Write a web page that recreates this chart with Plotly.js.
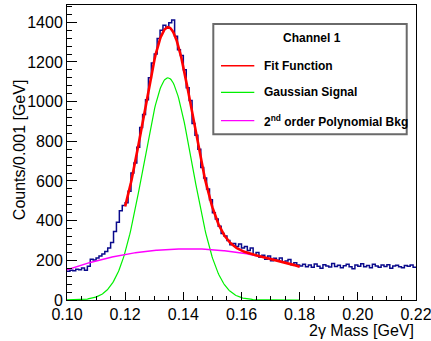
<!DOCTYPE html>
<html>
<head>
<meta charset="utf-8">
<script src="https://cdn.plot.ly/plotly-3.0.1.min.js"></script>
<style>
  html, body { margin: 0; padding: 0; background: #ffffff; }
  #plot { width: 431px; height: 341px; }
</style>
</head>
<body>
<div id="plot"></div>
<script>
// ---- Histogram: 2-photon invariant mass, bins of 0.001 GeV from 0.10 to 0.22 ----
const binLow = 0.10;
const binWidth = 0.001;
const counts = [
  145, 150, 147, 155, 152, 161, 150, 170, 206, 202,
  212, 222, 232, 244, 262, 290, 345, 392, 450, 476,
  490, 548, 640, 690, 770, 870, 935, 1010, 1120, 1195,
  1240, 1318, 1360, 1385, 1370, 1398, 1412, 1330, 1262, 1232,
  1160, 1070, 1005, 890, 830, 760, 668, 615, 560, 505,
  440, 408, 372, 335, 322, 300, 278, 285, 270, 282,
  262, 270, 250, 262, 228, 240, 215, 226, 205, 222,
  198, 210, 200, 212, 190, 196, 204, 178, 188, 176,
  172, 180, 168, 176, 165, 182, 170, 160, 178, 171,
  166, 184, 169, 175, 162, 173, 180, 167, 158, 176,
  170, 183, 168, 174, 162, 180, 171, 165, 177, 169,
  178, 160, 172, 175, 168, 163, 174, 170, 176, 165
];

// ---- Fit results (Gaussian signal + 2nd order polynomial background) ----
const gausPar = [1120, 0.1347, 0.0084];      // amplitude, mean, sigma
const polPar = [-963.4, 17263, -61000];       // p0, p1, p2
const fitRange = [0.12, 0.18];
const componentRange = [0.10, 0.18];

// ---- Axis ticks ----
const xTickVals = [0.10, 0.12, 0.14, 0.16, 0.18, 0.20, 0.22];
const xTickText = ["0.10", "0.12", "0.14", "0.16", "0.18", "0.20", "0.22"];
const yTickVals = [0, 200, 400, 600, 800, 1000, 1200, 1400];

const legendTitle = "Channel 1";
const seriesNames = ["Fit Function", "Gaussian Signal", "2<sup>nd</sup> order Polynomial Bkg"];
const seriesColors = ["#ff0000", "#00f000", "#ff00ff"];

// ---- build traces ----
function gaus(x) { return gausPar[0] * Math.exp(-0.5 * Math.pow((x - gausPar[1]) / gausPar[2], 2)); }
function pol2(x) { return polPar[0] + polPar[1] * x + polPar[2] * x * x; }
function sample(fn, range, n) {
  const xs = [], ys = [];
  for (let i = 0; i <= n; i++) {
    const x = range[0] + (range[1] - range[0]) * i / n;
    xs.push(x); ys.push(fn(x));
  }
  return {x: xs, y: ys};
}

const edges = [], stepY = [];
for (let i = 0; i <= counts.length; i++) {
  edges.push(binLow + i * binWidth);
  stepY.push(i < counts.length ? counts[i] : counts[counts.length - 1]);
}

const fitC = sample(x => gaus(x) + pol2(x), fitRange, 300);
const sigC = sample(gaus, componentRange, 300);
const bkgC = sample(pol2, componentRange, 300);

const FONT = "Liberation Sans, Arial, Helvetica, sans-serif";

const traces = [
  {x: edges, y: stepY, type: 'scatter', mode: 'lines', line: {shape: 'hv', color: '#0a0a8c', width: 1.5},
   showlegend: false, hoverinfo: 'skip', cliponaxis: true},
  {x: sigC.x, y: sigC.y, type: 'scatter', mode: 'lines', line: {color: seriesColors[1], width: 1.2},
   name: seriesNames[1], showlegend: false},
  {x: bkgC.x, y: bkgC.y, type: 'scatter', mode: 'lines', line: {color: seriesColors[2], width: 1.5},
   name: seriesNames[2], showlegend: false},
  {x: fitC.x, y: fitC.y, type: 'scatter', mode: 'lines', line: {color: seriesColors[0], width: 2.6},
   name: seriesNames[0], showlegend: false}
];

// ---- legend drawn as a ROOT-style TLegend box (paper coords) ----
const legBox = {x0: 0.4192, x1: 0.9734, y0: 0.5617, y1: 0.9356};
const legRowsY = [0.7942, 0.7041, 0.6078];
const legLineX = [0.4413, 0.5367];
const legTextX = 0.5596;

const shapes = [
  {type: 'rect', xref: 'paper', yref: 'paper', x0: legBox.x0, x1: legBox.x1, y0: legBox.y0, y1: legBox.y1,
   line: {color: '#6a6a6a', width: 2}, fillcolor: '#ffffff', layer: 'above'}
];
const annotations = [
  {text: legendTitle, xref: 'paper', yref: 'paper', x: (legBox.x0 + legBox.x1) / 2 + 0.007, y: 0.8892,
   xanchor: 'center', yanchor: 'middle', showarrow: false,
   font: {family: FONT, size: 12, weight: 'bold', color: '#000'}}
];
seriesNames.forEach((name, i) => {
  shapes.push({type: 'line', xref: 'paper', yref: 'paper', x0: legLineX[0], x1: legLineX[1],
    y0: legRowsY[i], y1: legRowsY[i], line: {color: seriesColors[i], width: i === 0 ? 1.5 : 1.2}, layer: 'above'});
  annotations.push({text: name, xref: 'paper', yref: 'paper', x: legTextX, y: legRowsY[i],
    xanchor: 'left', yanchor: 'middle', showarrow: false,
    font: {family: FONT, size: 12, weight: 'bold', color: '#000'}});
});

annotations.push(
  {text: '2γ Mass [GeV]', xref: 'paper', yref: 'paper', x: 1, y: -0.102, xanchor: 'right', yanchor: 'middle',
   showarrow: false, font: {family: FONT, size: 16}},
  {text: 'Counts/0.001 [GeV]', xref: 'paper', yref: 'paper', x: -0.1375, y: 0.508, xanchor: 'center', yanchor: 'middle',
   textangle: -90, showarrow: false, font: {family: FONT, size: 16}}
);

const layout = {
  width: 431, height: 341,
  margin: {l: 67, r: 15, t: 5, b: 41, pad: 0},
  paper_bgcolor: '#ffffff', plot_bgcolor: '#ffffff',
  font: {family: FONT, size: 16, color: '#000000'},
  showlegend: false,
  xaxis: {
    range: [0.10, 0.220001], tickvals: xTickVals, ticktext: xTickText,
    ticks: 'inside', ticklen: 8, tickcolor: '#000', tickwidth: 1,
    minor: {dtick: 0.005, tick0: 0.10, ticks: 'inside', ticklen: 4, tickcolor: '#000', showgrid: false},
    showgrid: false, zeroline: false, showline: true, mirror: true, linecolor: '#000', linewidth: 1,
    tickfont: {family: FONT, size: 16}, ticklabeloverflow: 'allow'
  },
  yaxis: {
    range: [0, 1487], tickvals: yTickVals,
    ticks: 'inside', ticklen: 10, tickcolor: '#000', tickwidth: 1,
    minor: {dtick: 40, tick0: 0, ticks: 'inside', ticklen: 5, tickcolor: '#000', showgrid: false},
    showgrid: false, zeroline: false, showline: true, mirror: true, linecolor: '#000', linewidth: 1,
    tickfont: {family: FONT, size: 16}
  },
  shapes: shapes,
  annotations: annotations
};

Plotly.newPlot('plot', traces, layout, {staticPlot: true, displayModeBar: false});
</script>
</body>
</html>
